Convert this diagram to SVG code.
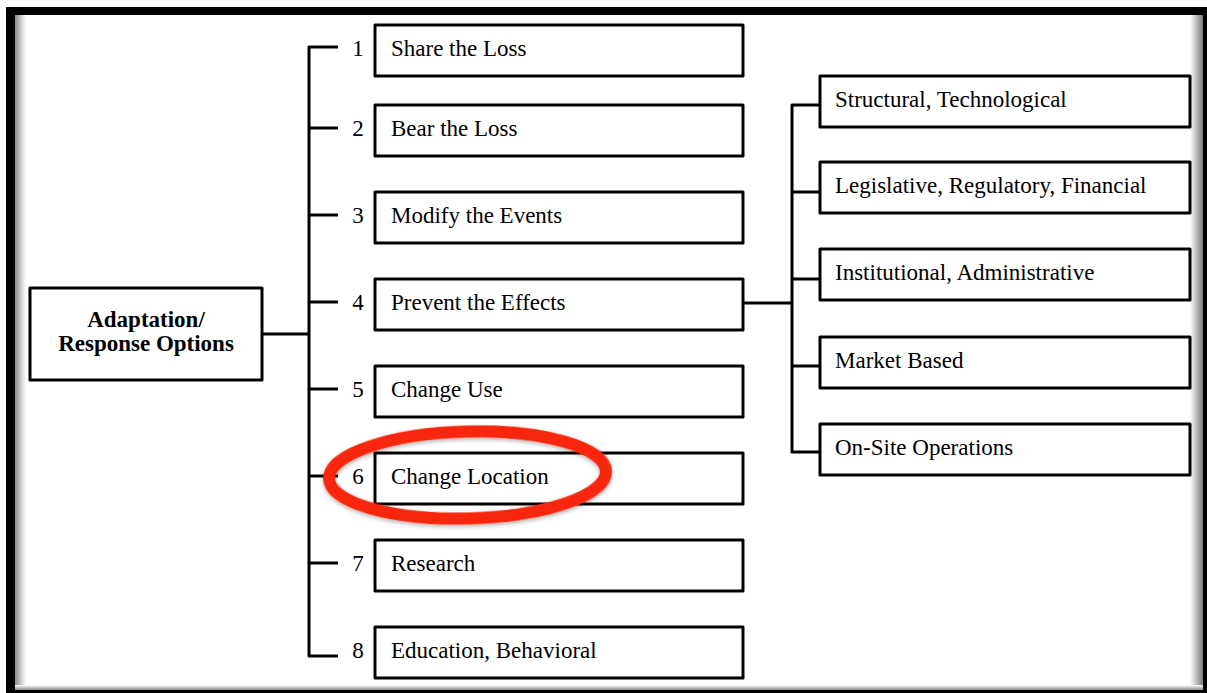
<svg xmlns="http://www.w3.org/2000/svg" width="1207" height="693" viewBox="0 0 1207 693">
<defs>
<linearGradient id="gl" x1="0" y1="0" x2="1" y2="0"><stop offset="0" stop-color="#8a8a8a"/><stop offset="1" stop-color="#ffffff"/></linearGradient>
<linearGradient id="gr" x1="0" y1="0" x2="1" y2="0"><stop offset="0" stop-color="#ffffff"/><stop offset="1" stop-color="#7a7a7a"/></linearGradient>
<linearGradient id="gb" x1="0" y1="0" x2="0" y2="1"><stop offset="0" stop-color="#ffffff"/><stop offset="1" stop-color="#8a8a8a"/></linearGradient>
<filter id="sh" x="-10%" y="-20%" width="120%" height="140%"><feDropShadow dx="0" dy="2" stdDeviation="2" flood-color="#000" flood-opacity="0.3"/></filter>
</defs>
<style>
.box{fill:#fff;stroke:#000;stroke-width:3;stroke-linejoin:round}
.ln{fill:none;stroke:#000;stroke-width:3;stroke-linejoin:round}
.t{font-family:"Liberation Serif","Times New Roman",serif;font-size:23px;fill:#000}
.n{font-family:"Liberation Serif","Times New Roman",serif;font-size:23px;fill:#000;text-anchor:middle}
.b{font-family:"Liberation Serif","Times New Roman",serif;font-size:23px;font-weight:bold;fill:#000;text-anchor:middle}
</style>
<rect x="0" y="0" width="1207" height="693" fill="#fff"/>
<rect x="6" y="7" width="1201" height="686" fill="#000"/>
<rect x="15" y="15" width="1188" height="675" fill="#fff"/>
<rect x="15" y="15" width="11" height="675" fill="url(#gl)"/>
<rect x="1190" y="15" width="13" height="675" fill="url(#gr)"/>
<rect x="15" y="685" width="1188" height="5" fill="url(#gb)"/>

<g id="connectors">
<path class="ln" d="M262 334 H309"/>
<path class="ln" d="M338 47 H309 V656 H338"/>
<path class="ln" d="M309 128 H338 M309 215 H338 M309 302 H338 M309 389 H338 M309 476 H338 M309 563 H338"/>
<path class="ln" d="M743 303 H792"/>
<path class="ln" d="M820 105 H792 V452 H820"/>
<path class="ln" d="M792 192 H820 M792 279 H820 M792 366 H820"/>
</g>

<g id="root"><rect class="box" x="30" y="288" width="232" height="92"/>
<text class="b" x="146" y="327">Adaptation/</text>
<text class="b" x="146" y="351">Response Options</text></g>

<g id="opt1"><text class="n" x="358" y="56">1</text><rect class="box" x="375" y="25" width="368" height="51"/><text class="t" x="391" y="56">Share the Loss</text></g>
<g id="opt2"><text class="n" x="358" y="136">2</text><rect class="box" x="375" y="105" width="368" height="51"/><text class="t" x="391" y="136">Bear the Loss</text></g>
<g id="opt3"><text class="n" x="358" y="223">3</text><rect class="box" x="375" y="192" width="368" height="51"/><text class="t" x="391" y="223">Modify the Events</text></g>
<g id="opt4"><text class="n" x="358" y="310">4</text><rect class="box" x="375" y="279" width="368" height="51"/><text class="t" x="391" y="310">Prevent the Effects</text></g>
<g id="opt5"><text class="n" x="358" y="397">5</text><rect class="box" x="375" y="366" width="368" height="51"/><text class="t" x="391" y="397">Change Use</text></g>
<g id="opt6"><text class="n" x="358" y="484">6</text><rect class="box" x="375" y="453" width="368" height="51"/><text class="t" x="391" y="484">Change Location</text></g>
<g id="opt7"><text class="n" x="358" y="571">7</text><rect class="box" x="375" y="540" width="368" height="51"/><text class="t" x="391" y="571">Research</text></g>
<g id="opt8"><text class="n" x="358" y="658">8</text><rect class="box" x="375" y="627" width="368" height="51"/><text class="t" x="391" y="658">Education, Behavioral</text></g>

<g id="sub1"><rect class="box" x="820" y="76" width="370" height="51"/><text class="t" x="835" y="107">Structural, Technological</text></g>
<g id="sub2"><rect class="box" x="820" y="162" width="370" height="51"/><text class="t" x="835" y="193">Legislative, Regulatory, Financial</text></g>
<g id="sub3"><rect class="box" x="820" y="249" width="370" height="51"/><text class="t" x="835" y="280">Institutional, Administrative</text></g>
<g id="sub4"><rect class="box" x="820" y="337" width="370" height="51"/><text class="t" x="835" y="368">Market Based</text></g>
<g id="sub5"><rect class="box" x="820" y="424" width="370" height="51"/><text class="t" x="835" y="455">On-Site Operations</text></g>

<g id="highlight"><ellipse cx="467.5" cy="475" rx="138.5" ry="43.5" transform="rotate(-1.5 467.5 475)" fill="none" stroke="#f8280a" stroke-width="12" filter="url(#sh)"/></g>
</svg>
